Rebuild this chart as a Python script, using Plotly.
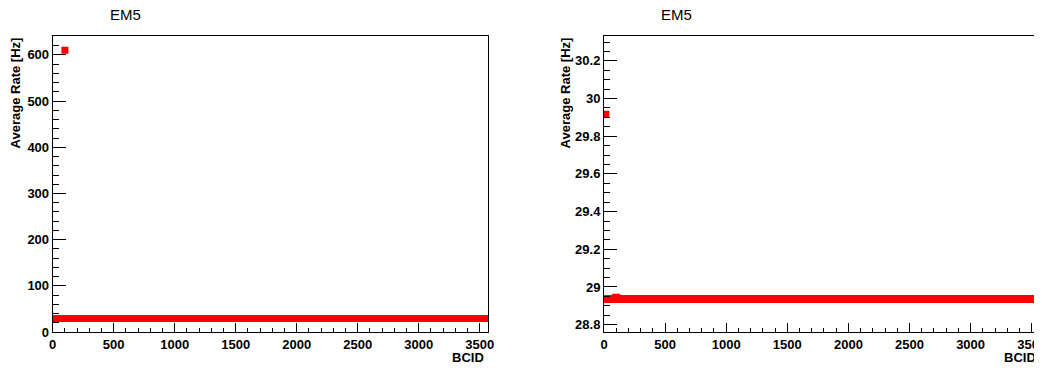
import plotly.graph_objects as go

# ---- data ----
N_BCID = 3564
bcid = list(range(N_BCID))

# left panel: flat band ~29 Hz, one spike at BCID 100
left_base = 29.0
left_rates = [left_base] * N_BCID
left_rates[100] = 610.0

# right panel: flat band ~28.935 Hz, one high point near BCID 15, small bump near BCID 100
right_base = 28.935
right_rates = [right_base] * N_BCID
right_rates[15] = 29.917
right_rates[95] = 28.945
right_rates[105] = 28.945

x_ticks = [0, 500, 1000, 1500, 2000, 2500, 3000, 3500]
x_ticklabels = ["0", "500", "1000", "1500", "2000", "2500", "3000", "3500"]
left_y_ticks = [0, 100, 200, 300, 400, 500, 600]
left_y_ticklabels = ["0", "100", "200", "300", "400", "500", "600"]
right_y_ticks = [28.8, 29.0, 29.2, 29.4, 29.6, 29.8, 30.0, 30.2]
right_y_ticklabels = ["28.8", "29", "29.2", "29.4", "29.6", "29.8", "30", "30.2"]

titles = ["EM5", "EM5"]
x_title = "BCID"
y_title = "Average Rate [Hz]"

# page body has an 8px margin; lay out in window pixels and shift
OFF = 8
W, H = 1042 - OFF, 368 - OFF
FONT = "Liberation Sans, Arial, Helvetica, sans-serif"

def px_x(p):
    return (p - OFF) / W

def px_y(p):
    return 1 - (p - OFF) / H

def bold(labels):
    return ["<b>%s</b>" % s for s in labels]

fig = go.Figure()
fig.add_trace(go.Scatter(x=bcid, y=left_rates, mode="markers",
                         marker=dict(symbol="square", size=7, color="#ff0000", line=dict(width=0)),
                         xaxis="x", yaxis="y", showlegend=False))
fig.add_trace(go.Scatter(x=bcid, y=right_rates, mode="markers",
                         marker=dict(symbol="square", size=7, color="#ff0000", line=dict(width=0)),
                         xaxis="x2", yaxis="y2", showlegend=False))

tickfont = dict(family=FONT, size=13, color="black")

def xaxis_cfg(domain, anchor):
    return dict(domain=domain, anchor=anchor, range=[0, N_BCID], automargin=False,
                showgrid=False, zeroline=False, showline=True, mirror=True,
                linecolor="black", linewidth=1, ticklabeloverflow="allow",
                ticks="inside", ticklen=9, tickwidth=1, tickcolor="black",
                tickmode="array", tickvals=x_ticks, ticktext=bold(x_ticklabels),
                tickfont=tickfont,
                minor=dict(ticks="inside", ticklen=4, tickmode="linear", tick0=0, dtick=100,
                           tickcolor="black", tickwidth=1))

def yaxis_cfg(domain, anchor, rng, tv, tt, mdtick):
    return dict(domain=domain, anchor=anchor, range=rng, automargin=False,
                showgrid=False, zeroline=False, showline=True, mirror=True,
                linecolor="black", linewidth=1, ticklabeloverflow="allow",
                ticks="inside", ticklen=13, tickwidth=1, tickcolor="black",
                tickmode="array", tickvals=tv, ticktext=bold(tt), tickfont=tickfont,
                minor=dict(ticks="inside", ticklen=6, tickmode="linear", tick0=0, dtick=mdtick,
                           tickcolor="black", tickwidth=1))

ydom = [px_y(332), px_y(36)]
fig.update_layout(
    width=W, height=H,
    margin=dict(l=0, r=0, t=0, b=0, autoexpand=False),
    paper_bgcolor="white", plot_bgcolor="white",
    xaxis=xaxis_cfg([px_x(52.7), px_x(487.5)], "y"),
    yaxis=yaxis_cfg(ydom, "x", [0, 641], left_y_ticks, left_y_ticklabels, 20),
    xaxis2=xaxis_cfg([px_x(604), px_x(1039.5)], "y2"),
    yaxis2=yaxis_cfg(ydom, "x2", [28.761, 30.332], right_y_ticks, right_y_ticklabels, 0.05),
)

ann = []
for cx, t in zip([125, 676.7], titles):
    ann.append(dict(x=px_x(cx), y=px_y(14), xref="paper", yref="paper", text=t,
                    showarrow=False, xanchor="center", yanchor="middle", borderpad=0,
                    font=dict(family=FONT, size=15, color="black")))
for rx in [485.7, 1037.5]:
    ann.append(dict(x=px_x(rx), y=px_y(357), xref="paper", yref="paper", text="<b>%s</b>" % x_title,
                    showarrow=False, xanchor="right", yanchor="middle",
                    font=dict(family=FONT, size=13, color="black")))
for cx in [15, 565]:
    ann.append(dict(x=px_x(cx), y=px_y(93.4), xref="paper", yref="paper", text="<b>%s</b>" % y_title,
                    showarrow=False, xanchor="center", yanchor="middle", textangle=-90,
                    font=dict(family=FONT, size=13, color="black")))
fig.update_layout(annotations=ann)

fig.write_html("out.html")
